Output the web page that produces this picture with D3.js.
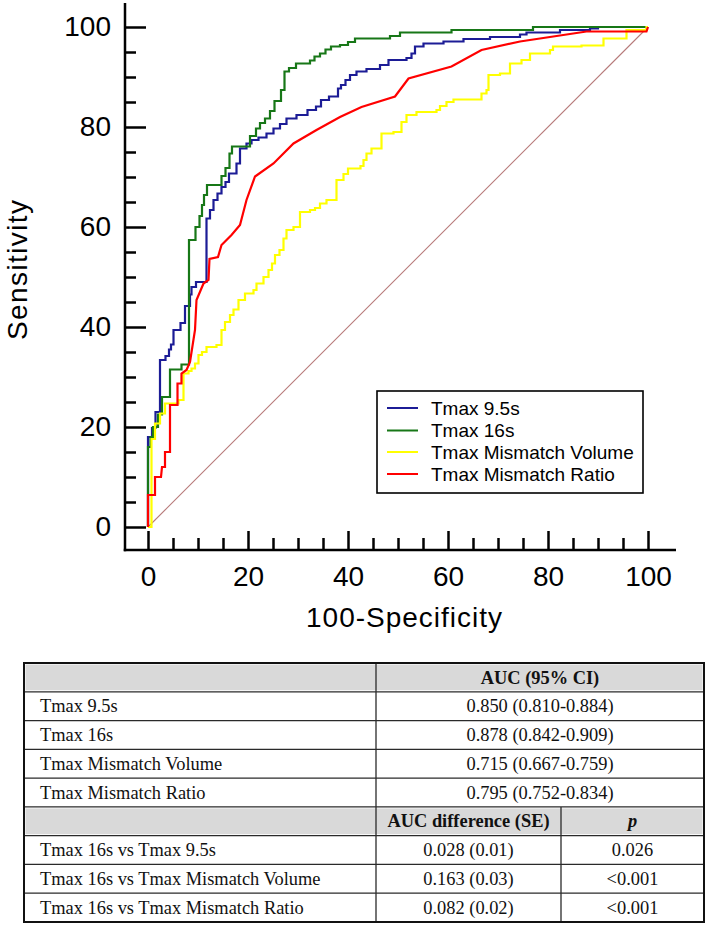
<!DOCTYPE html>
<html><head><meta charset="utf-8">
<script src="https://cdn.jsdelivr.net/npm/d3@7"></script>
<style>body{margin:0;background:#fff}svg{display:block}</style>
</head><body><svg id="c" width="709" height="926"></svg>
<script>
// ---------- data ----------
const seriesNames = ["Tmax 9.5s", "Tmax 16s", "Tmax Mismatch Volume", "Tmax Mismatch Ratio"];
const seriesColors = ["#1c1c96", "#177717", "#ffff00", "#ff0000"];

// step ROC curves: at x, sensitivity rises to y
const blueX = [0,0,0.8,1.5,2.4,3.5,4.2,4.6,5.1,6.5,7.4,8.4,8.7,9.6,11.7,11.7,12.4,13.1,13.9,14.7,15.5,16.2,17.7,18.4,19.7,20.7,22.1,23.7,25.1,26.4,27.7,29.7,31.9,33.6,34.6,36.2,38,38.6,39.5,40.4,41.7,43.7,46.4,48.1,51.7,52.7,53.4,55.1,59.1,63.1,68.4,74.4,75.7,82.4,88.4,90,100];
const blueY = [0,18,19.8,23,33.4,34.2,35.5,36.5,39.4,40.8,44.2,46.5,48,49,50.4,61.7,63.4,65.4,66.7,68,69,70.7,72.7,75.7,76.7,77.4,77.9,78.7,79.7,80.6,81.7,82.4,83.4,84.1,85.4,86.1,87.7,88.4,89.4,90.4,91.1,91.6,92.4,93.4,93.8,94.7,96.1,96.7,97.1,97.6,98,98.5,98.9,99.4,99.7,100,100];

const greenX = [0,0,0.5,1,2,2.8,4.4,6.7,8.2,9.5,10.3,10.8,11.2,11.8,14.7,15.5,16.3,16.8,20.4,21.6,22.4,23.4,24.4,25.3,26.6,27.3,28.2,29.6,32.4,33.3,34.4,35.5,36.6,38.4,40,41.4,48.4,50.4,60.7,77,100];
const greenY = [0,16,18,20,22.5,26,31.5,32.5,57.4,60,62.2,64.4,66.4,68.4,70.2,71.8,74.7,76.1,78.2,79.7,80.8,81.7,83.2,85.2,87.4,91.1,91.8,92.7,93.3,94.1,94.7,95.5,96.1,96.4,97,97.7,98.2,98.9,99.4,100,100];

const yellowX = [0,0.7,1.4,2.4,3.4,6.1,7.1,8.1,8.7,9.4,10.1,10.8,11.7,13.7,14.7,15.4,16.4,17.1,18.1,19.4,21.1,21.7,23.1,24.1,24.8,25.4,26.3,27.1,27.7,29.1,30.4,32.4,33.4,34.4,35.7,37.7,39.1,40,42.5,43.1,43.7,44.7,46.7,49.1,50.7,51.7,53.7,57.7,58.4,59.7,61.1,66.7,67.7,68.1,70.4,72.4,74.7,76.4,80.4,81,86.7,91.1,95.7,99.7,100];
const yellowY = [0,17.6,20.7,22.7,24.7,25.4,30.7,31.2,31.7,32.7,34.4,35,36,36.4,39.4,41,42.4,43.5,45.4,46.7,47.4,48.7,50,51.4,52.7,54.4,55.4,57.7,59.4,60,63,63.4,63.8,64.7,65.4,69.4,70.6,71.7,72.2,73.4,74.7,75.7,78.7,79,81,82.4,83,83.4,84.2,85,85.5,86.7,87.4,90.4,90.7,92.7,93.4,94.7,95.4,96.1,96.3,97.7,99.4,100,100];

// polyline ROC curve (vertices)
const redX = [0,0,1.4,1.4,2.6,2.8,3.4,3.4,4.4,4.4,5.9,5.9,6.7,6.7,7.7,8.4,9.4,9.7,11.1,12.1,12.3,14,14.7,16.7,18.4,19.7,21.4,25.1,29.1,33.7,38.4,42.7,49.4,52.1,60.7,66.7,74.4,87.7,99.7,100];
const redY = [0,6.4,6.4,10,10,12,12,15,15,24.4,24.4,28.7,28.7,30.7,31.4,33,39.4,45.4,48.7,49.4,53.6,54,56.4,58.4,60.4,65.4,70.1,72.7,76.7,79.4,82,84,86.1,89.7,92.1,95.4,97.1,99.1,99.1,100];

const majorTicks = [0,20,40,60,80,100];
const minorTicks = [5,10,15,25,30,35,45,50,55,65,70,75,85,90,95];
const xTitle = "100-Specificity";
const yTitle = "Sensitivity";

// table data
const aucHeader = "AUC (95% CI)";
const aucNames = ["Tmax 9.5s", "Tmax 16s", "Tmax Mismatch Volume", "Tmax Mismatch Ratio"];
const aucValues = ["0.850 (0.810-0.884)", "0.878 (0.842-0.909)", "0.715 (0.667-0.759)", "0.795 (0.752-0.834)"];
const diffHeader = "AUC difference (SE)";
const pHeader = "p";
const diffNames = ["Tmax 16s vs Tmax 9.5s", "Tmax 16s vs Tmax Mismatch Volume", "Tmax 16s vs Tmax Mismatch Ratio"];
const diffValues = ["0.028 (0.01)", "0.163 (0.03)", "0.082 (0.02)"];
const pValues = ["0.026", "<0.001", "<0.001"];

// ---------- chart ----------
const svg = d3.select("#c");
const sans = "'Liberation Sans', Arial, sans-serif";
const serif = "'Liberation Serif', 'Times New Roman', serif";

const x = d3.scaleLinear().domain([0, 100]).range([148, 648]);
const y = d3.scaleLinear().domain([0, 100]).range([527, 27]);
const axX = 125, axY = 550;

// diagonal reference
svg.append("line")
  .attr("x1", x(0)).attr("y1", y(0)).attr("x2", x(100)).attr("y2", y(100))
  .attr("stroke", "#b77a7a").attr("stroke-width", 1.1);

const zip = (a, b) => a.map((v, i) => [v, b[i]]);
const series = [
  {pts: zip(blueX, blueY), curve: d3.curveStepAfter},
  {pts: zip(greenX, greenY), curve: d3.curveStepAfter},
  {pts: zip(yellowX, yellowY), curve: d3.curveStepAfter},
  {pts: zip(redX, redY), curve: d3.curveLinear}
];
series.forEach((s, i) => {
  const line = d3.line().x(d => x(d[0])).y(d => y(d[1])).curve(s.curve);
  svg.append("path").attr("d", line(s.pts)).attr("fill", "none")
    .attr("stroke", seriesColors[i]).attr("stroke-width", 2.2)
    .attr("stroke-linejoin", "miter");
});

// axes
function styleAxis(g) {
  g.select(".domain").remove();
  g.selectAll(".tick line").attr("stroke", "#000").attr("stroke-width", 2.5);
  g.selectAll(".tick text").attr("font-family", sans).attr("font-size", 28).attr("fill", "#000");
}
svg.append("g").attr("transform", `translate(${axX},0)`)
  .call(d3.axisLeft(y).tickValues(majorTicks).tickSizeInner(-21).tickSizeOuter(0).tickPadding(14))
  .call(styleAxis);
svg.append("g").attr("transform", `translate(${axX},0)`)
  .call(d3.axisLeft(y).tickValues(minorTicks).tickSizeInner(-11).tickSizeOuter(0).tickFormat(""))
  .call(styleAxis);
svg.append("g").attr("transform", `translate(0,${axY})`)
  .call(d3.axisBottom(x).tickValues(majorTicks).tickSizeInner(-19).tickSizeOuter(0).tickPadding(16))
  .call(styleAxis);
svg.append("g").attr("transform", `translate(0,${axY})`)
  .call(d3.axisBottom(x).tickValues(minorTicks).tickSizeInner(-12).tickSizeOuter(0).tickFormat(""))
  .call(styleAxis);
svg.append("line").attr("x1", axX).attr("x2", axX).attr("y1", 3).attr("y2", axY + 1.25)
  .attr("stroke", "#000").attr("stroke-width", 2.5);
svg.append("line").attr("x1", axX - 1.25).attr("x2", 676).attr("y1", axY).attr("y2", axY)
  .attr("stroke", "#000").attr("stroke-width", 2.5);

svg.append("text").attr("x", 404).attr("y", 627).attr("text-anchor", "middle")
  .attr("font-family", sans).attr("font-size", 28).attr("textLength", 196).text(xTitle);
svg.append("text").attr("transform", "translate(27,270) rotate(-90)").attr("text-anchor", "middle")
  .attr("font-family", sans).attr("font-size", 28).attr("textLength", 140).text(yTitle);

// legend
const lg = svg.append("g");
lg.append("rect").attr("x", 377).attr("y", 391).attr("width", 266).attr("height", 102)
  .attr("fill", "#fff").attr("stroke", "#000").attr("stroke-width", 1.6);
const legRows = [408, 430.5, 452, 474];
seriesNames.forEach((n, i) => {
  lg.append("line").attr("x1", 387).attr("x2", 418).attr("y1", legRows[i]).attr("y2", legRows[i])
    .attr("stroke", seriesColors[i]).attr("stroke-width", 2);
  lg.append("text").attr("x", 431).attr("y", legRows[i] + 6.5)
    .attr("font-family", sans).attr("font-size", 19).attr("fill", "#000").text(n);
});

// ---------- table ----------
const tL = 24, tR = 704, tT = 663, tB = 922, c1 = 376, c2 = 561;
const nRows = 9, rh = (tB - tT) / nRows;
const rowY = i => tT + i * rh;
const tb = svg.append("g");
[0, 5].forEach(r => {
  tb.append("rect").attr("x", tL + 1.5).attr("y", rowY(r) + 1.5).attr("width", tR - tL - 3).attr("height", rh - 3)
    .attr("fill", "#d9d9d9");
});
for (let r = 1; r < nRows; r++) {
  tb.append("line").attr("x1", tL).attr("x2", tR).attr("y1", rowY(r)).attr("y2", rowY(r))
    .attr("stroke", "#2a2a2a").attr("stroke-width", 1.3);
}
tb.append("line").attr("x1", c1).attr("x2", c1).attr("y1", tT).attr("y2", tB).attr("stroke", "#2a2a2a").attr("stroke-width", 1.3);
tb.append("line").attr("x1", c2).attr("x2", c2).attr("y1", rowY(5)).attr("y2", tB).attr("stroke", "#2a2a2a").attr("stroke-width", 1.3);
tb.append("rect").attr("x", tL).attr("y", tT).attr("width", tR - tL).attr("height", tB - tT)
  .attr("fill", "none").attr("stroke", "#111").attr("stroke-width", 2);

function cell(txt, cx, r, anchor, opts = {}) {
  tb.append("text").attr("x", cx).attr("y", rowY(r) + rh / 2 + 6.2)
    .attr("text-anchor", anchor).attr("font-family", serif).attr("font-size", 18.4)
    .attr("font-weight", opts.bold ? "bold" : "normal")
    .attr("font-style", opts.italic ? "italic" : "normal")
    .attr("fill", "#111").text(txt);
}
cell(aucHeader, (c1 + tR) / 2, 0, "middle", {bold: true});
aucNames.forEach((n, i) => { cell(n, 40, i + 1, "start"); cell(aucValues[i], (c1 + tR) / 2, i + 1, "middle"); });
cell(diffHeader, (c1 + c2) / 2, 5, "middle", {bold: true});
cell(pHeader, (c2 + tR) / 2, 5, "middle", {bold: true, italic: true});
diffNames.forEach((n, i) => {
  cell(n, 40, i + 6, "start");
  cell(diffValues[i], (c1 + c2) / 2, i + 6, "middle");
  cell(pValues[i], (c2 + tR) / 2, i + 6, "middle");
});
</script></body></html>
